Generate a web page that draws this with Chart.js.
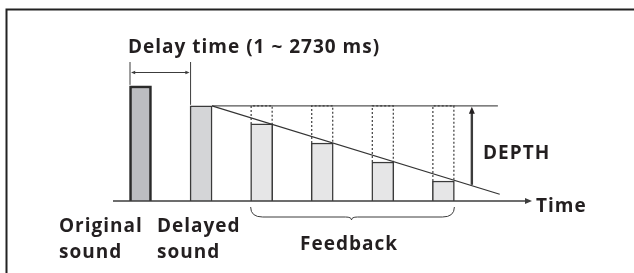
<!DOCTYPE html>
<html>
<head>
<meta charset="utf-8">
<script src="https://cdn.jsdelivr.net/npm/chart.js@4.4.1/dist/chart.umd.min.js"></script>
<style>
  body { margin: 0; background: #fff; }
  #wrap { width: 634px; height: 273px; }
</style>
</head>
<body>
<div id="wrap"><canvas id="delayChart" width="634" height="273"></canvas></div>
<script>
// bar positions along the time axis (one unit = one delay step) and their levels
const labels = ['Original sound', 'Delayed sound', 'Feedback 1', 'Feedback 2', 'Feedback 3', 'Feedback 4'];
const positions = [0, 1, 2, 3, 4, 5];
const levels = [121, 100, 81, 61, 41, 21];
const fills = ['#bcbdc1', '#d4d5d7', '#e6e6e7', '#e6e6e7', '#e6e6e7', '#e6e6e7'];
const depthLevel = 100;
const referenceLine = [{ x: 1.18, y: 100 }, { x: 5.9, y: 100 }];
const decayLine = [{ x: 1.18, y: 100 }, { x: 5.93, y: 7 }];
const depthPos = 5.47;
const depthFoot = 17;

const ink = '#231f20';
const lineInk = '#3c3c3c';
const font = '"Open Sans", "DejaVu Sans", sans-serif';

function arrowHead(ctx, x, y, dir, size) {
    // dir: 'right', 'left', 'up'
    ctx.beginPath();
    if (dir === 'right') {
        ctx.moveTo(x, y); ctx.lineTo(x - size * 1.4, y - size * 0.6); ctx.lineTo(x - size * 1.4, y + size * 0.6);
    } else if (dir === 'left') {
        ctx.moveTo(x, y); ctx.lineTo(x + size * 1.4, y - size * 0.6); ctx.lineTo(x + size * 1.4, y + size * 0.6);
    } else {
        ctx.moveTo(x, y); ctx.lineTo(x - size * 0.6, y + size * 1.4); ctx.lineTo(x + size * 0.6, y + size * 1.4);
    }
    ctx.closePath();
    ctx.fill();
}

const diagramPlugin = {
    id: 'diagram',
    afterDatasetsDraw(chart) {
        const ctx = chart.ctx;
        const xs = chart.scales.x;
        const ys = chart.scales.y;
        const half = 11;
        const y0 = ys.getPixelForValue(0);

        ctx.save();
        ctx.strokeStyle = lineInk;
        ctx.fillStyle = lineInk;

        // dotted outlines showing the lost level of each feedback repeat
        ctx.lineWidth = 1.2;
        ctx.setLineDash([2, 2]);
        for (let i = 2; i < positions.length; i++) {
            const cx = xs.getPixelForValue(positions[i]);
            const top = ys.getPixelForValue(depthLevel);
            const bot = ys.getPixelForValue(levels[i]);
            ctx.beginPath();
            ctx.moveTo(cx - half + 0.5, bot);
            ctx.lineTo(cx - half + 0.5, top);
            ctx.lineTo(cx + half - 0.5, top);
            ctx.lineTo(cx + half - 0.5, bot);
            ctx.stroke();
        }
        ctx.setLineDash([]);

        // time axis with arrow
        ctx.lineWidth = 1.3;
        ctx.beginPath();
        ctx.moveTo(xs.left, y0);
        ctx.lineTo(xs.right - 4, y0);
        ctx.stroke();
        arrowHead(ctx, xs.right + 2, y0, 'right', 5);

        // depth arrow
        const dx = xs.getPixelForValue(depthPos);
        ctx.lineWidth = 2.4;
        ctx.beginPath();
        ctx.moveTo(dx, ys.getPixelForValue(depthFoot));
        ctx.lineTo(dx, ys.getPixelForValue(depthLevel) + 6);
        ctx.stroke();
        ctx.fillStyle = ink;
        arrowHead(ctx, dx, ys.getPixelForValue(depthLevel) + 1, 'up', 5);

        // delay time bracket
        const xa = xs.getPixelForValue(positions[0]) - half + 0.5;
        const xb = xs.getPixelForValue(positions[1]) - half + 0.5;
        const tickTop = 62;
        const arrowY = 72.5;
        ctx.strokeStyle = lineInk;
        ctx.fillStyle = lineInk;
        ctx.lineWidth = 1;
        ctx.beginPath();
        ctx.moveTo(xa, tickTop); ctx.lineTo(xa, ys.getPixelForValue(levels[0]) - 1);
        ctx.moveTo(xb, tickTop); ctx.lineTo(xb, ys.getPixelForValue(levels[1]) - 1);
        ctx.moveTo(xa + 4, arrowY); ctx.lineTo(xb - 4, arrowY);
        ctx.stroke();
        arrowHead(ctx, xa + 1, arrowY, 'left', 3);
        arrowHead(ctx, xb - 1, arrowY, 'right', 3);

        // feedback brace
        const bl = xs.getPixelForValue(positions[2]) - half;
        const br = xs.getPixelForValue(positions[5]) + half;
        const bm = (bl + br) / 2 - 1;
        const bt = y0 + 6, bb = y0 + 16, tip = y0 + 19;
        ctx.lineWidth = 1;
        ctx.beginPath();
        ctx.moveTo(bl, bt);
        ctx.quadraticCurveTo(bl, bb, bl + 12, bb);
        ctx.lineTo(bm - 6, bb);
        ctx.quadraticCurveTo(bm, bb, bm, tip);
        ctx.quadraticCurveTo(bm, bb, bm + 6, bb);
        ctx.lineTo(br - 12, bb);
        ctx.quadraticCurveTo(br, bb, br, bt);
        ctx.stroke();

        // texts
        ctx.fillStyle = ink;
        ctx.textBaseline = 'alphabetic';
        ctx.font = 'bold 19px ' + font;
        ctx.letterSpacing = '1px';
        ctx.textAlign = 'left';
        ctx.fillText('Delay time (1 ~ 2730 ms)', 128, 52.5);
        ctx.fillText('Original', 59, 232);
        ctx.fillText('sound', 59, 258);
        ctx.fillText('Delayed', 157, 232);
        ctx.fillText('sound', 157, 258);
        ctx.fillText('DEPTH', 483, 159);
        ctx.fillText('Time', 536, 211.5);
        ctx.textAlign = 'center';
        ctx.fillText('Feedback', 349, 250);
        ctx.letterSpacing = '0px';

        // frame
        ctx.strokeStyle = '#222';
        ctx.lineWidth = 2;
        ctx.beginPath();
        ctx.moveTo(6.5, 273);
        ctx.lineTo(6.5, 9.5);
        ctx.lineTo(634, 9.5);
        ctx.stroke();
        ctx.restore();
    }
};

new Chart(document.getElementById('delayChart').getContext('2d'), {
    type: 'bar',
    data: {
        labels: labels,
        datasets: [{
            label: 'Level',
            data: positions.map((x, i) => ({ x: x, y: levels[i] })),
            backgroundColor: fills,
            borderColor: ['#2a2a2a', '#3a3a3a', '#3a3a3a', '#3a3a3a', '#3a3a3a', '#3a3a3a'],
            borderWidth: [2.6, 1.5, 1.5, 1.5, 1.5, 1.5],
            barThickness: 22,
            order: 2
        }, {
            type: 'line',
            label: 'Depth level',
            data: referenceLine,
            borderColor: '#555',
            borderWidth: 1.2,
            pointRadius: 0,
            order: 1
        }, {
            type: 'line',
            label: 'Feedback decay',
            data: decayLine,
            borderColor: '#333',
            borderWidth: 1.1,
            pointRadius: 0,
            order: 0
        }]
    },
    options: {
        responsive: false,
        animation: false,
        layout: { padding: { left: 113, right: 104, top: 10.7, bottom: 72 } },
        plugins: {
            legend: { display: false },
            tooltip: { enabled: false }
        },
        scales: {
            x: { type: 'linear', min: -0.454, max: 6.43, offset: false, display: false },
            y: { min: 0, max: 200, display: false }
        }
    },
    plugins: [diagramPlugin]
});
</script>
</body>
</html>
